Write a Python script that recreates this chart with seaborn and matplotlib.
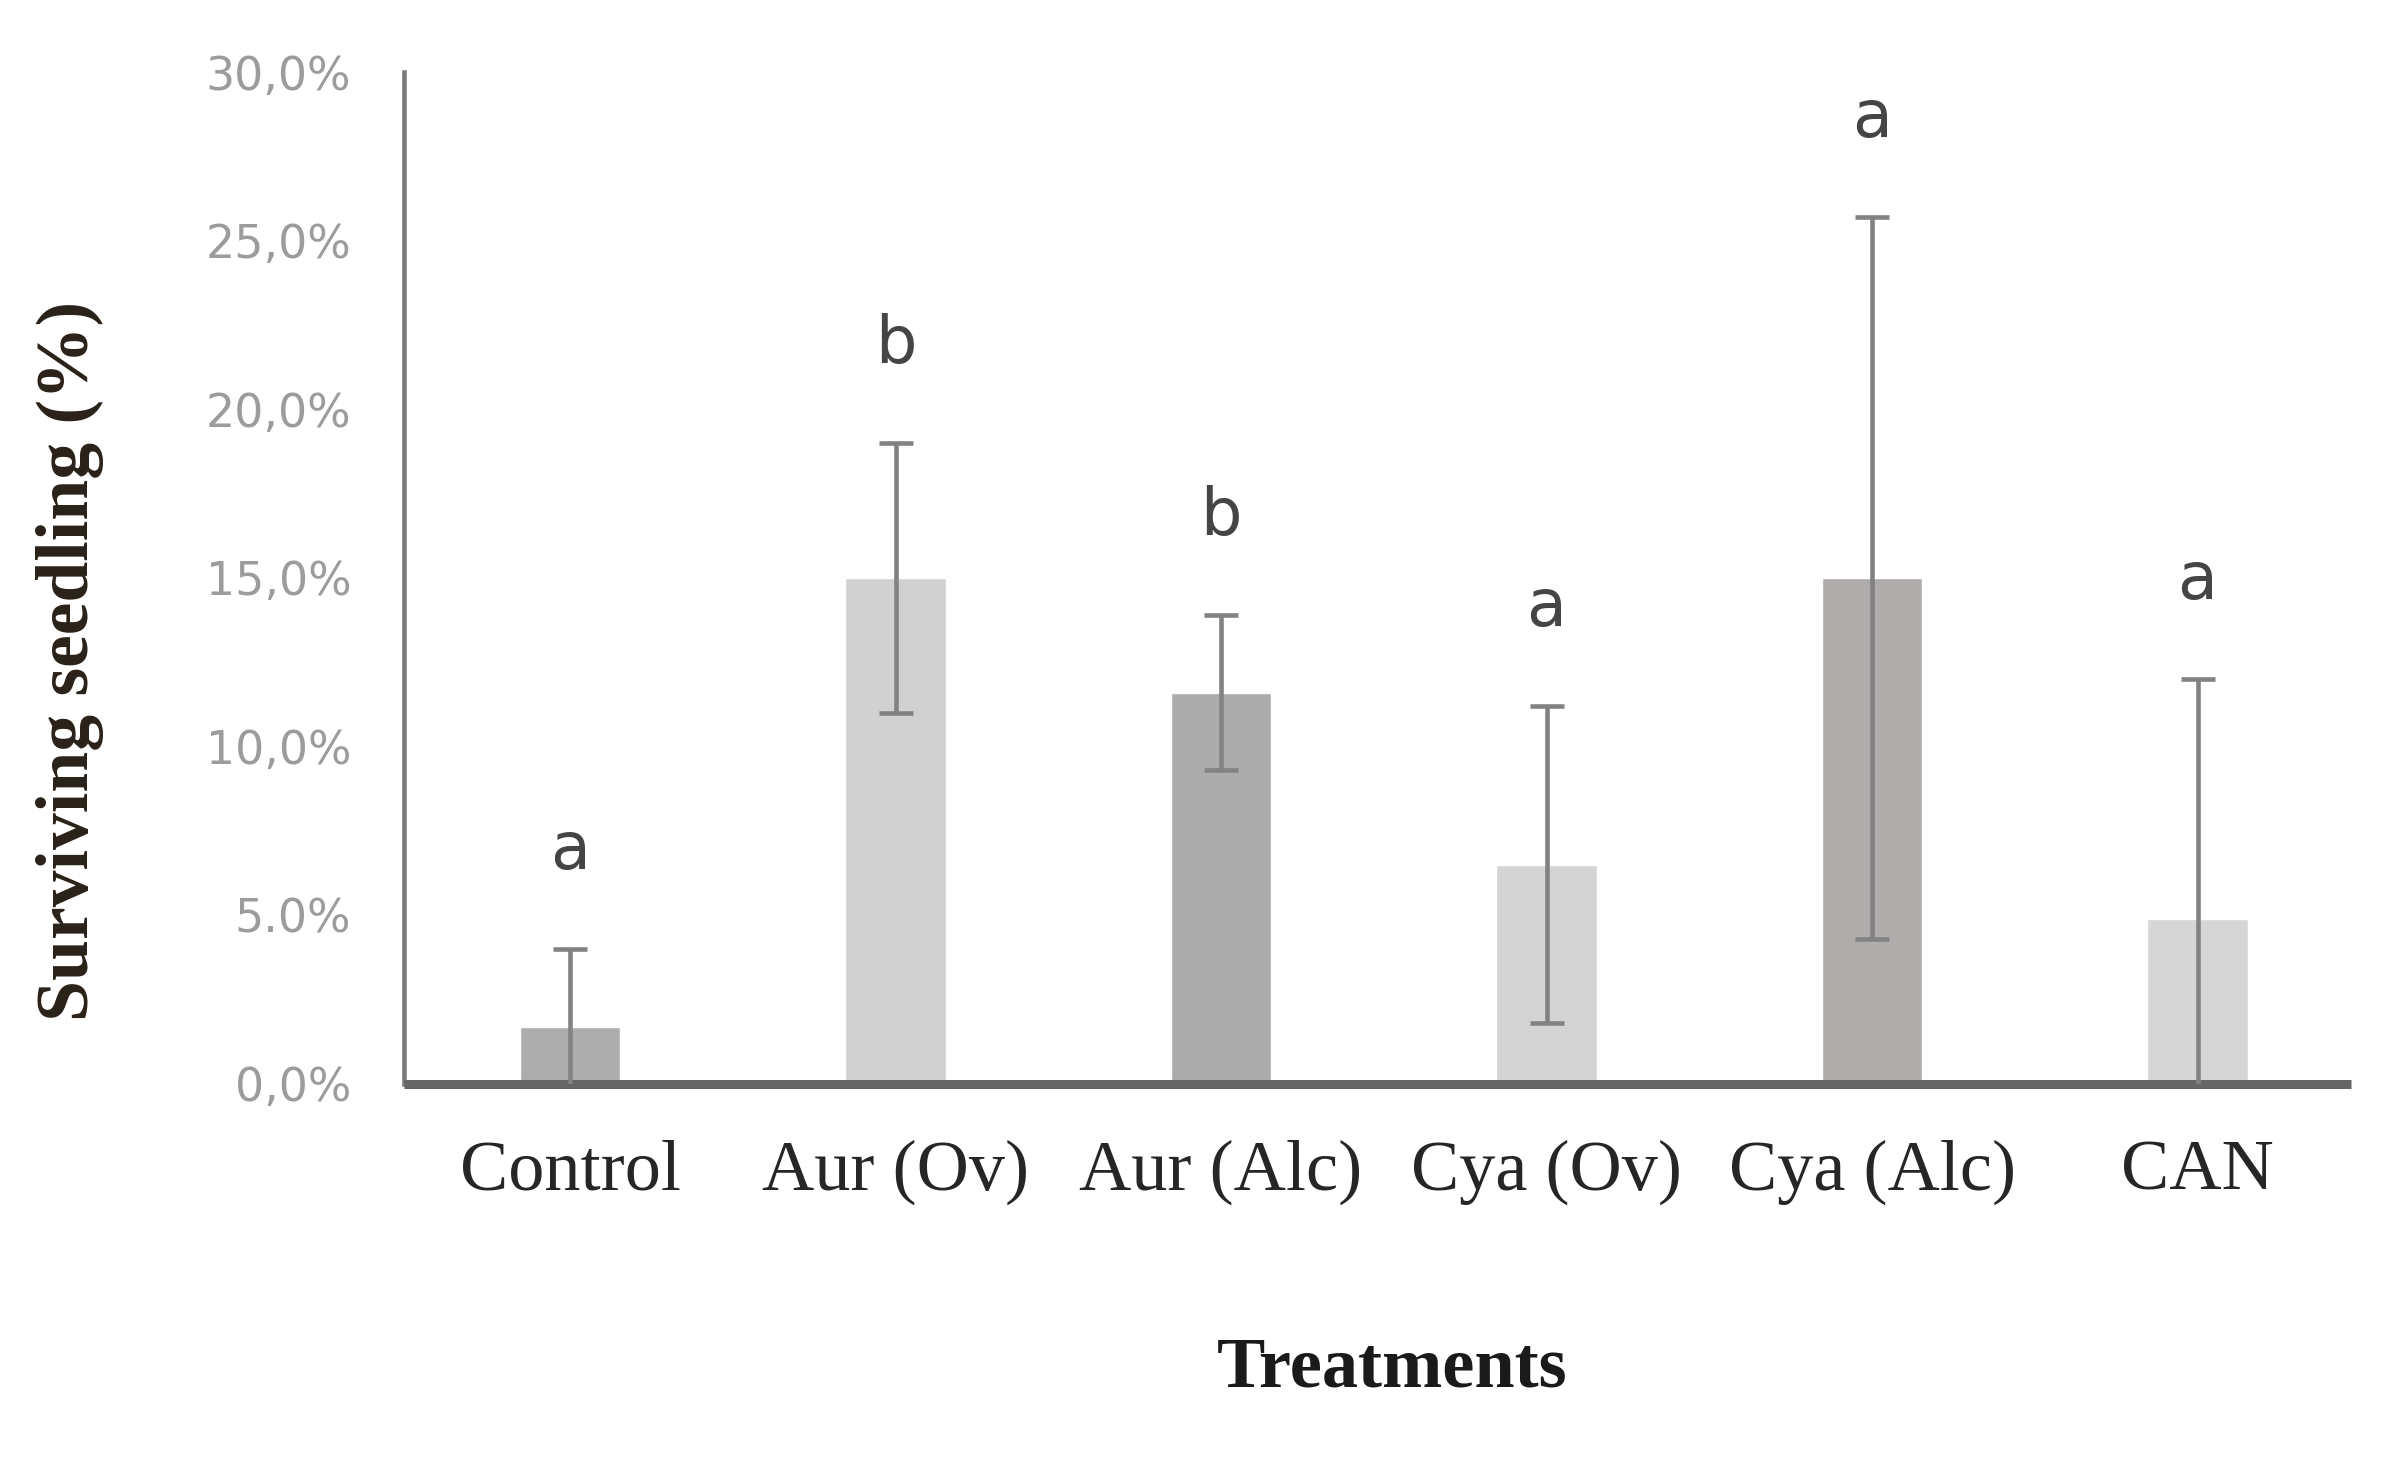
import numpy as np
import pandas as pd
import matplotlib
matplotlib.use("Agg")
import matplotlib.pyplot as plt
import seaborn as sns

treatments = ["Control", "Aur (Ov)", "Aur (Alc)", "Cya (Ov)", "Cya (Alc)", "CAN"]
surviving = [1.7, 15.0, 11.6, 6.5, 15.0, 4.9]
errors = [2.3, 4.0, 2.3, 4.7, 10.7, 7.1]
letters = ["a", "b", "b", "a", "a", "a"]
bar_colors = ["#adadad", "#d1d1d1", "#acacac", "#d4d4d4", "#b1acac", "#d6d6d6"]
ytick_vals = [0, 5, 10, 15, 20, 25, 30]
ytick_labels = ["0,0%", "5.0%", "10,0%", "15,0%", "20,0%", "25,0%", "30,0%"]

df = pd.DataFrame({"treatment": treatments, "value": surviving})

sns.set_style("white")
fig = plt.figure(figsize=(23.99, 14.64), dpi=100)
ax = fig.add_axes([0.1684, 0.2596, 0.8114, 0.6912])

sns.barplot(data=df, x="treatment", y="value", hue="treatment", palette=bar_colors,
            legend=False, width=0.31, ax=ax, saturation=1)

xs = np.arange(len(treatments))
ax.errorbar(xs, surviving, yerr=errors, fmt="none", ecolor="#828282",
            elinewidth=3.3, capsize=12, capthick=3.3, zorder=5)

for x, v, e, l in zip(xs, surviving, errors, letters):
    ax.text(x, v + e + 2.9, l, ha="center", va="center", fontsize=47,
            color="#454545", family="DejaVu Sans")

ax.set_ylim(0, 30)
ax.set_xlim(-0.51, 5.47)
ax.set_yticks(ytick_vals)
ax.set_yticklabels(ytick_labels, fontsize=33, color="#9c9c9c")
ax.set_xticks(xs)
ax.set_xticklabels(treatments, fontsize=52, color="#262626", family="Liberation Serif")
ax.tick_params(axis="y", length=0, pad=38)
ax.tick_params(axis="x", length=0, pad=40)
ax.set_xlabel("")
ax.set_ylabel("")

for s in ["top", "right"]:
    ax.spines[s].set_visible(False)
ax.spines["left"].set_color("#7a7a7a")
ax.spines["left"].set_linewidth(3.3)
ax.spines["bottom"].set_color("#666666")
ax.spines["bottom"].set_linewidth(6.5)
ax.spines["bottom"].set_capstyle("butt")

fig.text(0.5805, 1 - 1369 / 1464, "Treatments", ha="center", va="center",
         fontsize=52, fontweight="bold", family="Liberation Serif", color="#1a1a1a")
fig.text(0.029, 1 - 661 / 1464, "Surviving seedling (%)", ha="center", va="center",
         rotation=90, fontsize=53, fontweight="bold", family="Liberation Serif",
         color="#2a2118")

fig.savefig("out.png", dpi=100)
